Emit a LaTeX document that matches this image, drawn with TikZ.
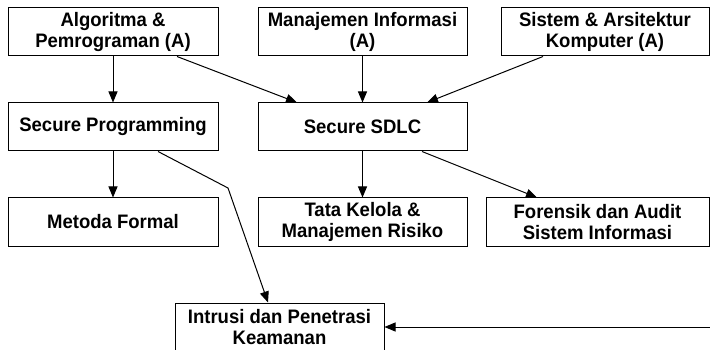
\documentclass[tikz,border=0pt]{standalone}
\usepackage{fontspec}
\setmainfont{Liberation Sans}[FakeStretch=0.95]
\usetikzlibrary{arrows.meta}
\begin{document}
\begin{tikzpicture}[x=1pt,y=-1pt,
  box/.style={draw=black,line width=1pt,fill=white,rectangle,minimum height=48pt,inner sep=0pt,align=center,font=\bfseries\fontsize{19.5}{21.7}\selectfont},
  conn/.style={draw=black,line width=1pt,-{Triangle[length=11pt,width=9pt]}}]
\useasboundingbox (0,0) rectangle (710,350);
\node[box,minimum width=210pt] (b1) at (113,32) {Algoritma \&\\Pemrograman (A)};
\node[box,minimum width=209pt] (b2) at (362.5,32) {Manajemen Informasi\\(A)};
\node[box,minimum width=208pt] (b3) at (605,32) {Sistem \& Arsitektur\\Komputer (A)};
\node[box,minimum width=210pt] (b4) at (113,127) {Secure Programming};
\node[box,minimum width=209pt] (b5) at (362.5,127) {Secure SDLC};
\node[box,minimum width=210pt] (b6) at (113,222) {Metoda Formal};
\node[box,minimum width=209pt] (b7) at (362.5,222) {Tata Kelola \&\\Manajemen Risiko};
\node[box,minimum width=223pt] (b8) at (597.5,222) {Forensik dan Audit\\Sistem Informasi};
\node[box,minimum width=209pt] (b9) at (279.5,327) {Intrusi dan Penetrasi\\Keamanan};
\coordinate (bend) at (228,188);
\coordinate (rin) at (712,327);
\draw[conn] (b1.south) -- (b4.north);
\draw[conn] ([xshift=64pt]b1.south) -- ([xshift=-65.5pt]b5.north);
\draw[conn] (b2.south) -- (b5.north);
\draw[conn] ([xshift=-62pt]b3.south) -- ([xshift=64.5pt]b5.north);
\draw[conn] (b4.south) -- (b6.north);
\draw[conn] ([xshift=45pt]b4.south) -- (bend) -- ([xshift=-11.5pt]b9.north);
\draw[conn] (b5.south) -- (b7.north);
\draw[conn] ([xshift=59.5pt]b5.south) -- ([xshift=-60.5pt]b8.north);
\draw[conn] (rin) -- (b9.east);
\end{tikzpicture}
\end{document}
